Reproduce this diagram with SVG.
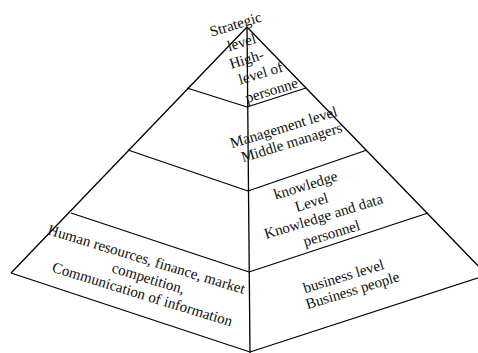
<svg xmlns="http://www.w3.org/2000/svg" width="478" height="353" viewBox="0 0 478 353">
<style>
.ln{fill:none;stroke:#000;stroke-width:1.3;stroke-linejoin:round}
.t{font-family:"Liberation Serif","Times New Roman",serif;font-size:15px;fill:#111;text-anchor:middle}
</style>
<rect width="478" height="353" fill="#fff"/>
<g id="pyramid-outline">
<polyline class="ln" points="11,273 247,27 487,275"/>
<polyline class="ln" points="11,273 250,352 487,275"/>
<line class="ln" x1="247" y1="27" x2="250" y2="353"/>
</g>
<g id="connectors">
<polyline class="ln" points="187,88 247,107 306,88"/>
<polyline class="ln" points="128,150 248,191 367,150"/>
<polyline class="ln" points="71,213 249,272 428,213"/>
</g>
<g id="strategic-level" class="t">
<text transform="translate(237,29) rotate(-17)">Strategic</text>
<text transform="translate(243,47) rotate(-17)">level</text>
<text transform="translate(248,64) rotate(-17)">High-</text>
<text transform="translate(262,78) rotate(-17)">level of</text>
<text transform="translate(273,95) rotate(-17)">personne</text>
</g>
<g id="management-level" class="t">
<text transform="translate(285,132) rotate(-17)">Management level</text>
<text transform="translate(293,147) rotate(-17)">Middle managers</text>
</g>
<g id="knowledge-level" class="t">
<text transform="translate(307,190) rotate(-17)">knowledge</text>
<text transform="translate(313,207) rotate(-17)">Level</text>
<text transform="translate(325,221) rotate(-17)">Knowledge and data</text>
<text transform="translate(333,238) rotate(-17)">personnel</text>
</g>
<g id="business-level" class="t">
<text transform="translate(345,281) rotate(-17)">business level</text>
<text transform="translate(354,295) rotate(-17)">Business people</text>
</g>
<g id="business-functions" class="t">
<text transform="translate(145,264) rotate(17)">Human resources, finance, market</text>
<text transform="translate(147,283) rotate(17)">competition,</text>
<text transform="translate(141,299) rotate(17)">Communication of information</text>
</g>
</svg>
